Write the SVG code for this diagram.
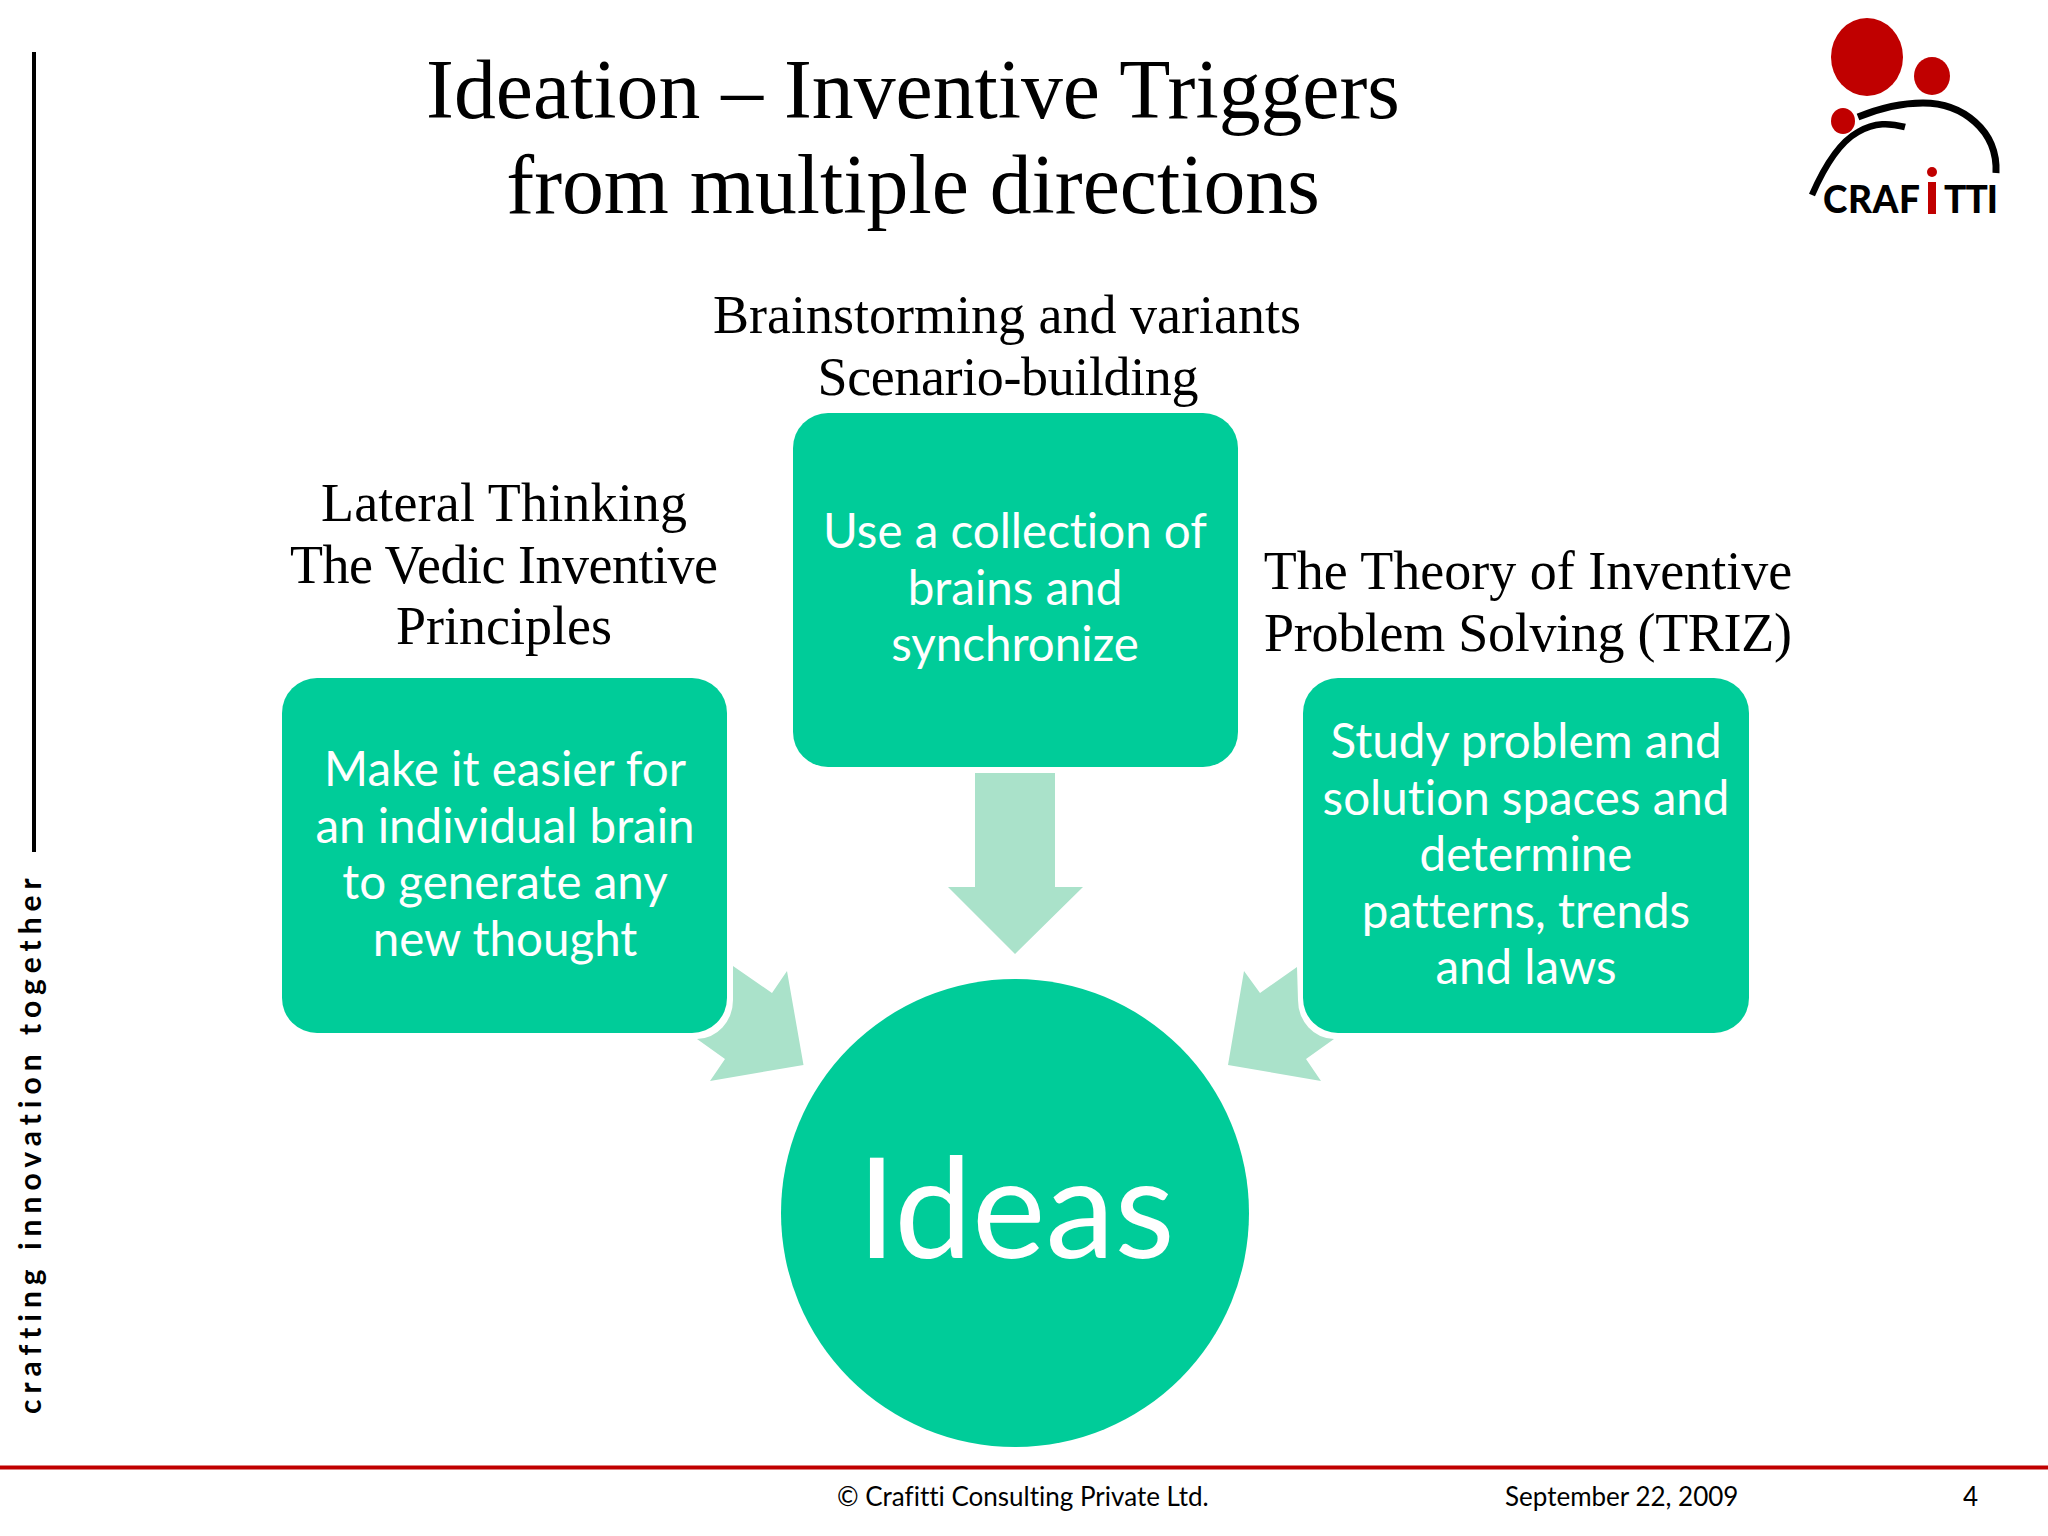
<svg xmlns="http://www.w3.org/2000/svg" width="2048" height="1536" viewBox="0 0 2048 1536">
<style>
text{font-variant-ligatures:none}
.h{font-family:"Liberation Serif","Times New Roman",serif;fill:#000;text-anchor:middle}
.t{font-family:"Liberation Serif","Times New Roman",serif;font-size:54px;fill:#000;text-anchor:middle}
.w{font-family:Lato,"Open Sans",sans-serif;font-size:47.500px;fill:#fff;text-anchor:middle}
.f{font-family:Lato,"Open Sans",sans-serif;font-size:26px;fill:#000}
.box{fill:#00cc99}
.arr{fill:#aae2ca}
.k{fill:none;stroke:#000;stroke-linecap:butt}
.r{fill:#c00000}
.lg{font-family:Lato,"Open Sans",sans-serif;font-weight:900;font-size:37px;fill:#000}
</style>
<rect width="2048" height="1536" fill="#fff"/>
<g id="frame">
<path d="M34 52V852" stroke="#000" stroke-width="4" fill="none"/>
<path d="M0 1467.500H2048" stroke="#c00000" stroke-width="4" fill="none"/>
<text transform="translate(41 1414) rotate(-90)" font-family="Lato,'Open Sans',sans-serif" font-size="30" font-weight="700" letter-spacing="6" fill="#000">crafting innovation together</text>
</g>
<g id="title">
<text class="h" font-size="83.700" x="913" y="118">Ideation – Inventive Triggers</text>
<text class="h" font-size="83.700" x="913" y="213">from multiple directions</text>
</g>
<g id="logo">
<ellipse class="r" cx="1867" cy="57" rx="36" ry="39"/>
<ellipse class="r" cx="1932" cy="76" rx="18" ry="19"/>
<ellipse class="r" cx="1843" cy="121" rx="12" ry="13"/>
<path class="k" stroke-width="7" d="M1858 117C1885 106 1905 103 1923 103C1962 103 1998 130 1996 173"/>
<path class="k" stroke-width="6.500" d="M1812 195C1825 165 1840 142 1858 132C1875 122 1890 123 1905 127"/>
<text class="lg" x="1823" y="213" textLength="97">CRAF</text>
<rect x="1928" y="182" width="8" height="32" fill="#c00000"/>
<circle cx="1932" cy="172" r="5" fill="#c00000"/>
<text class="lg" x="1944" y="213" textLength="54">TTI</text>
</g>
<g id="connectors">
<path class="arr" d="M975 773H1055V887H1083L1015 954L948 887H975Z"/>
<path class="arr" d="M733 966L772 993L787 971L803.500 1065L710 1081L725 1059L697 1039A36 39 0 0 0 733 1000Z"/>
<path class="arr" d="M1297 967L1260 993L1244 971L1228 1065L1321 1081L1306 1059L1334 1039A36 39 0 0 1 1298 1000Z"/>
</g>
<g id="node-lateral">
<rect class="box" x="282" y="678" width="445" height="355" rx="35"/>
<text class="t" x="504" y="521" textLength="366">Lateral Thinking</text>
<text class="t" x="504" y="583" textLength="428">The Vedic Inventive</text>
<text class="t" x="504" y="644">Principles</text>
<text class="w" x="505" y="786">Make it easier for</text>
<text class="w" x="505" y="843">an individual brain</text>
<text class="w" x="505" y="899">to generate any</text>
<text class="w" x="505" y="956">new thought</text>
</g>
<g id="node-brainstorm">
<rect class="box" x="793" y="413" width="445" height="354" rx="35"/>
<text class="t" x="1007" y="333">Brainstorming and variants</text>
<text class="t" x="1008" y="395" textLength="381">Scenario-building</text>
<text class="w" x="1015" y="548">Use a collection of</text>
<text class="w" x="1015" y="605">brains and</text>
<text class="w" x="1015" y="661">synchronize</text>
</g>
<g id="node-triz">
<rect class="box" x="1303" y="678" width="446" height="355" rx="35"/>
<text class="t" x="1528" y="589">The Theory of Inventive</text>
<text class="t" x="1528" y="651" textLength="528">Problem Solving (TRIZ)</text>
<text class="w" x="1526" y="758">Study problem and</text>
<text class="w" x="1526" y="815">solution spaces and</text>
<text class="w" x="1526" y="871">determine</text>
<text class="w" x="1526" y="928">patterns, trends</text>
<text class="w" x="1526" y="984">and laws</text>
</g>
<g id="node-ideas">
<circle class="box" cx="1015" cy="1213" r="234"/>
<text x="1016" y="1258" font-family="Lato,'Open Sans',sans-serif" font-size="139" fill="#fff" text-anchor="middle">Ideas</text>
</g>
<g id="footer">
<text class="f" x="837" y="1506">© Crafitti Consulting Private Ltd.</text>
<text class="f" x="1505" y="1506">September 22, 2009</text>
<text class="f" x="1963" y="1506">4</text>
</g>
</svg>
